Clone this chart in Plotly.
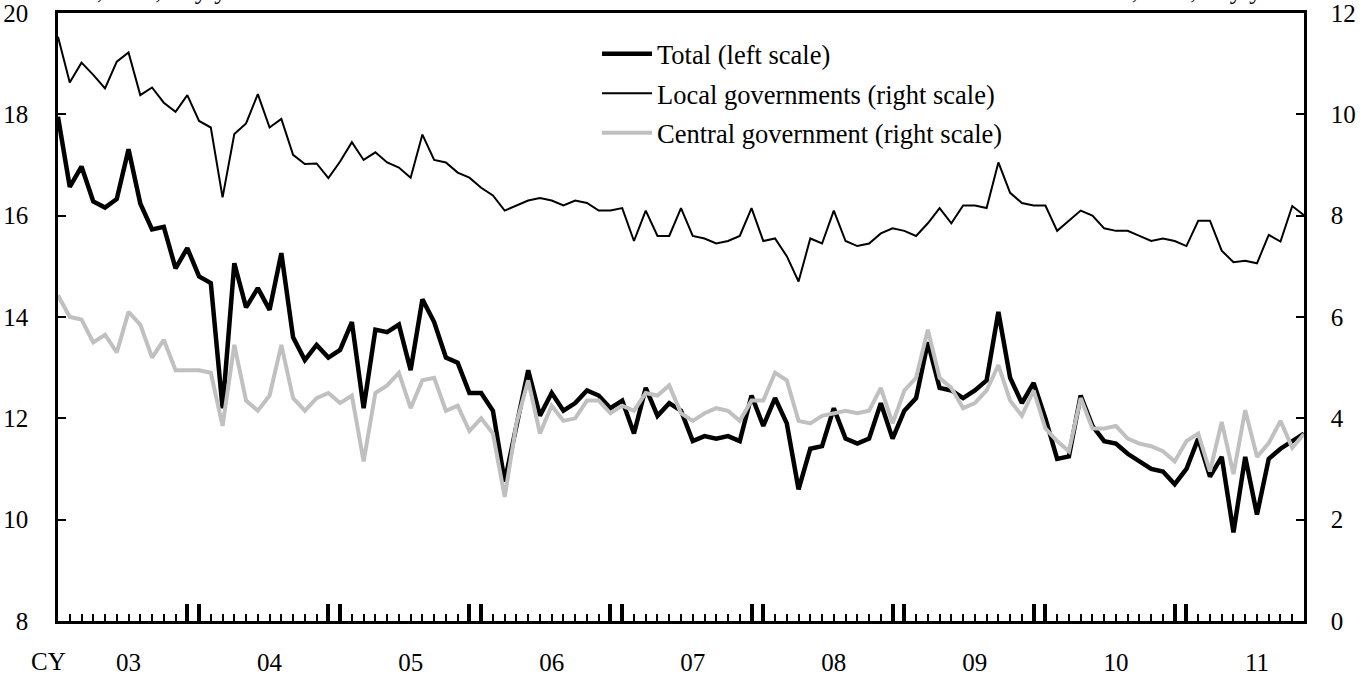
import plotly.graph_objects as go
import pandas as pd

# ---- data (monthly, Jan 2003 - Nov 2011) ----
months = pd.period_range("2003-01", "2011-11", freq="M")

total = [
    17.95, 16.57, 16.97, 16.28, 16.16, 16.33, 17.31, 16.24, 15.73, 15.78,
    14.96, 15.36, 14.80, 14.67, 12.20, 15.06, 14.19, 14.57, 14.14, 15.26,
    13.60, 13.15, 13.45, 13.20, 13.35, 13.90, 12.20, 13.75, 13.70, 13.85,
    12.95, 14.35, 13.90, 13.20, 13.10, 12.50, 12.50, 12.15, 10.75, 11.80,
    12.95, 12.05, 12.50, 12.15, 12.30, 12.55, 12.45, 12.20, 12.35, 11.70,
    12.60, 12.05, 12.30, 12.15, 11.55, 11.65, 11.60, 11.65, 11.55, 12.45,
    11.85, 12.40, 11.90, 10.60, 11.40, 11.45, 12.20, 11.60, 11.50, 11.60,
    12.30, 11.60, 12.15, 12.40, 13.50, 12.60, 12.55, 12.40, 12.55, 12.75,
    14.10, 12.80, 12.30, 12.70, 12.00, 11.20, 11.25, 12.45, 11.85, 11.55,
    11.50, 11.30, 11.15, 11.00, 10.95, 10.70, 11.00, 11.60, 10.85, 11.24,
    9.75, 11.24, 10.10, 11.20, 11.40, 11.55, 11.70,
]

local_gov = [
    11.53, 10.63, 11.02, 10.78, 10.51, 11.04, 11.22, 10.38, 10.53, 10.23,
    10.05, 10.38, 9.87, 9.74, 8.36, 9.61, 9.82, 10.40, 9.74, 9.91,
    9.20, 9.02, 9.03, 8.74, 9.07, 9.45, 9.10, 9.25, 9.05, 8.95,
    8.75, 9.60, 9.10, 9.05, 8.85, 8.75, 8.55, 8.40, 8.10, 8.20,
    8.30, 8.35, 8.30, 8.20, 8.30, 8.25, 8.10, 8.10, 8.15, 7.50,
    8.10, 7.60, 7.60, 8.15, 7.60, 7.55, 7.45, 7.50, 7.60, 8.15,
    7.50, 7.55, 7.20, 6.70, 7.55, 7.45, 8.10, 7.50, 7.40, 7.45,
    7.65, 7.75, 7.70, 7.60, 7.85, 8.15, 7.85, 8.20, 8.20, 8.15,
    9.05, 8.45, 8.25, 8.20, 8.20, 7.70, 7.90, 8.10, 8.00, 7.75,
    7.70, 7.70, 7.60, 7.50, 7.55, 7.50, 7.40, 7.90, 7.90, 7.31,
    7.08, 7.11, 7.06, 7.62, 7.49, 8.19, 8.01,
]

central_gov = [
    6.43, 6.00, 5.95, 5.50, 5.65, 5.30, 6.10, 5.85, 5.20, 5.55,
    4.95, 4.95, 4.95, 4.90, 3.85, 5.45, 4.35, 4.15, 4.45, 5.45,
    4.40, 4.15, 4.40, 4.50, 4.30, 4.45, 3.15, 4.50, 4.65, 4.90,
    4.20, 4.75, 4.80, 4.15, 4.25, 3.75, 4.00, 3.70, 2.45, 3.90,
    4.75, 3.70, 4.25, 3.95, 4.00, 4.35, 4.35, 4.10, 4.25, 4.15,
    4.50, 4.45, 4.65, 4.10, 3.95, 4.10, 4.20, 4.15, 3.95, 4.35,
    4.35, 4.90, 4.75, 3.95, 3.90, 4.05, 4.10, 4.15, 4.10, 4.15,
    4.60, 3.90, 4.55, 4.80, 5.75, 4.80, 4.60, 4.20, 4.30, 4.55,
    5.05, 4.35, 4.05, 4.55, 3.80, 3.55, 3.35, 4.40, 3.80, 3.80,
    3.85, 3.60, 3.50, 3.45, 3.35, 3.15, 3.55, 3.70, 2.95, 3.93,
    2.90, 4.16, 3.24, 3.51, 3.95, 3.42, 3.69,
]

year_labels = ["03", "04", "05", "06", "07", "08", "09", "10", "11"]
left_ticks = [8, 10, 12, 14, 16, 18, 20]
right_ticks = [0, 2, 4, 6, 8, 10, 12]
unit_text = "%, ratio, % y/y"

# ---- derived positions ----
x = list(range(len(months)))
month_ticks = x
year_edge_ticks = [i for i, m in enumerate(months) if m.month in (12, 1)]
year_label_pos = [i for i, m in enumerate(months) if m.month == 7]

FONT = "Liberation Serif"
GREY = "rgb(192,192,192)"

fig = go.Figure()
fig.add_trace(go.Scatter(x=x, y=total, mode="lines", name="Total (left scale)",
                         line=dict(color="black", width=4.5), yaxis="y",
                         legendgroup="a"))
fig.add_trace(go.Scatter(x=x, y=local_gov, mode="lines",
                         name="Local governments (right scale)",
                         line=dict(color="black", width=2), yaxis="y2",
                         legendgroup="b"))
fig.add_trace(go.Scatter(x=x, y=central_gov, mode="lines",
                         name="Central government (right scale)",
                         line=dict(color=GREY, width=4), yaxis="y2",
                         legendgroup="c"))
# helper (empty) traces so that the extra tick axes get drawn
for ax in ("x2", "x3"):
    fig.add_trace(go.Scatter(x=[x[0], x[-1]], y=[None, None], mode="lines",
                             xaxis=ax, yaxis="y", showlegend=False,
                             hoverinfo="skip"))

rng = [x[0], x[-1]]
fig.update_layout(
    width=1370, height=675,
    margin=dict(l=58, r=66, t=13, b=54, autoexpand=False),
    paper_bgcolor="white", plot_bgcolor="white",
    font=dict(family=FONT, size=25, color="black"),
    showlegend=True,
    legend=dict(x=0.4326, y=0.972, xanchor="left", yanchor="top",
                bgcolor="rgba(0,0,0,0)", font=dict(size=26.5),
                tracegroupgap=2, itemwidth=50),
    xaxis=dict(range=rng, tickmode="array", tickvals=month_ticks,
               ticks="inside", ticklen=7, tickwidth=1.5, tickcolor="black",
               showticklabels=False, showgrid=False, zeroline=False,
               showline=True, linecolor="black", linewidth=2.5, mirror=True,
               automargin=False),
    xaxis2=dict(range=rng, overlaying="x", anchor="y", tickmode="array",
                tickvals=year_edge_ticks + [0], ticks="inside", ticklen=17,
                tickwidth=4, tickcolor="black", showticklabels=False,
                showgrid=False, zeroline=False, showline=False,
                automargin=False),
    xaxis3=dict(range=rng, overlaying="x", anchor="y", tickmode="array",
                tickvals=year_label_pos, ticktext=year_labels, ticks="",
                showgrid=False, zeroline=False, showline=False,
                ticklabelstandoff=24, automargin=False,
                ticklabeloverflow="allow"),
    yaxis=dict(range=[8, 20], tickmode="array", tickvals=left_ticks,
               ticks="inside", ticklen=8, tickwidth=2, tickcolor="black",
               showgrid=False, zeroline=False, showline=True,
               linecolor="black", linewidth=2.5, ticklabelstandoff=22,
               automargin=False, ticklabeloverflow="allow"),
    yaxis2=dict(range=[0, 12], tickmode="array", tickvals=right_ticks,
                overlaying="y", side="right", anchor="x",
                ticks="inside", ticklen=8, tickwidth=2, tickcolor="black",
                showgrid=False, zeroline=False, showline=True,
                linecolor="black", linewidth=2.5, ticklabelstandoff=19,
                automargin=False, ticklabeloverflow="allow"),
)

fig.add_annotation(text="CY", xref="paper", yref="paper", x=-0.008, y=-0.0674,
                   xanchor="center", yanchor="middle", showarrow=False,
                   font=dict(size=25))
fig.add_annotation(text=unit_text, xref="paper", yref="paper", x=0.0128,
                   y=1.0123, xanchor="left", yanchor="bottom", showarrow=False,
                   font=dict(size=25))
fig.add_annotation(text=unit_text, xref="paper", yref="paper", x=0.8435,
                   y=1.0123, xanchor="left", yanchor="bottom", showarrow=False,
                   font=dict(size=25))

fig.write_html("out.html", config={"displayModeBar": False},
               post_script="document.body.style.margin='0';"
                           "document.body.style.overflow='hidden';")
